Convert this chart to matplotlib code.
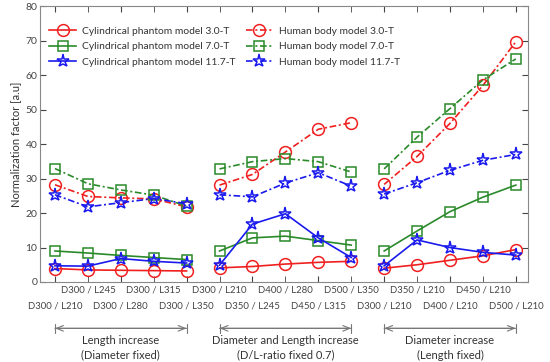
import matplotlib.pyplot as plt
import numpy as np

plt.rcParams["font.family"] = ["Lato", "DejaVu Sans"]

# x positions 1..15, three groups of five
tick_labels = [
    "D300 / L210", "D300 / L245", "D300 / L280", "D300 / L315", "D300 / L350",
    "D300 / L210", "D350 / L245", "D400 / L280", "D450 / L315", "D500 / L350",
    "D300 / L210", "D350 / L210", "D400 / L210", "D450 / L210", "D500 / L210",
]
groups = [
    ("Length increase", "(Diameter fixed)"),
    ("Diameter and Length increase", "(D/L-ratio fixed 0.7)"),
    ("Diameter increase", "(Length fixed)"),
]

cyl_3t = [3.9, 3.5, 3.4, 3.3, 3.2, 4.1, 4.5, 5.2, 5.7, 6.0, 4.0, 5.0, 6.3, 7.6, 9.4]
cyl_7t = [9.0, 8.4, 7.7, 7.1, 6.5, 9.0, 12.8, 13.3, 12.0, 10.7, 9.0, 14.8, 20.4, 24.6, 28.1]
cyl_117t = [4.7, 4.6, 6.8, 6.0, 5.5, 4.9, 16.8, 19.8, 12.8, 7.1, 4.7, 12.2, 10.0, 8.6, 7.8]
hum_3t = [28.2, 24.8, 24.4, 24.1, 21.8, 28.1, 31.2, 37.7, 44.3, 46.2, 28.3, 36.4, 46.0, 57.0, 69.7]
hum_7t = [32.9, 28.5, 26.7, 25.2, 22.0, 32.8, 34.9, 35.8, 34.9, 31.9, 32.8, 42.0, 50.3, 58.6, 64.7]
hum_117t = [25.3, 21.8, 23.0, 24.2, 22.7, 25.3, 24.7, 28.7, 31.7, 27.8, 25.5, 28.8, 32.4, 35.3, 37.0]

RED = "#f02020"
GREEN = "#2a8a2a"
BLUE = "#1a1aee"

series = [
    ("Cylindrical phantom model 3.0-T", cyl_3t, RED, "o", "-"),
    ("Cylindrical phantom model 7.0-T", cyl_7t, GREEN, "s", "-"),
    ("Cylindrical phantom model 11.7-T", cyl_117t, BLUE, "*", "-"),
    ("Human body model 3.0-T", hum_3t, RED, "o", (0, (4, 1.6, 1.2, 1.6))),
    ("Human body model 7.0-T", hum_7t, GREEN, "s", (0, (4, 1.6, 1.2, 1.6))),
    ("Human body model 11.7-T", hum_117t, BLUE, "*", (0, (4, 1.6, 1.2, 1.6))),
]
marker_sizes = {"o": 8.5, "s": 6.5, "*": 9.5}

fig = plt.figure(figsize=(5.5, 3.62), dpi=100)
ax = fig.add_axes([0.073, 0.221, 0.887, 0.762])

x = np.arange(1, 16)
for label, vals, color, marker, ls in series:
    for g in range(3):
        sl = slice(g * 5, g * 5 + 5)
        ax.plot(x[sl], vals[sl], color=color, linestyle=ls, linewidth=1.2,
                marker=marker, markersize=marker_sizes[marker],
                markerfacecolor="none", markeredgecolor=color,
                markeredgewidth=1.1, label=label if g == 0 else None)

ax.set_xlim(0.55, 15.37)
ax.set_ylim(0, 80)
ax.set_yticks(range(0, 81, 10))
# lower row labels on major ticks, upper row on minor ticks
ax.set_xticks(x[0::2])
ax.set_xticklabels(tick_labels[0::2])
ax.set_xticks(x[1::2], minor=True)
ax.set_xticklabels(tick_labels[1::2], minor=True)
ax.tick_params(which="both", direction="in", top=True, right=True, labelsize=6.9,
               colors="#444444", length=4)
ax.tick_params(axis="x", which="major", pad=14)
ax.tick_params(axis="x", which="minor", pad=2.5)
ax.tick_params(axis="y", labelsize=7.5, pad=2)
for sp in ax.spines.values():
    sp.set_color("#888888")
ax.set_ylabel("Normalization factor [a.u]", fontsize=8, color="#333333", labelpad=3)

ax.legend(ncol=2, loc="upper left", bbox_to_anchor=(0.0, 0.96), frameon=False,
          fontsize=7.4, handlelength=2.6, columnspacing=1.0, labelspacing=0.62,
          handletextpad=0.6, labelcolor="#333333")

trans = ax.get_xaxis_transform()
for g, (l1, l2) in enumerate(groups):
    x0, x1 = g * 5 + 1, g * 5 + 5
    ax.annotate("", xy=(x0, -0.168), xytext=(x1, -0.168), xycoords=trans,
                textcoords=trans, annotation_clip=False,
                arrowprops=dict(arrowstyle="<->,head_length=0.5,head_width=0.2",
                                color="#777777", lw=0.8, shrinkA=0, shrinkB=0))
    ax.annotate("", xy=(x0, -0.168), xytext=(x1, -0.168), xycoords=trans,
                textcoords=trans, annotation_clip=False,
                arrowprops=dict(arrowstyle="|-|,widthA=0.3,widthB=0.3",
                                color="#777777", lw=0.8, shrinkA=0, shrinkB=0))
    xc = (x0 + x1) / 2
    ax.text(xc, -0.212, l1, transform=trans, ha="center", va="center",
            fontsize=8, color="#333333", clip_on=False)
    ax.text(xc, -0.265, l2, transform=trans, ha="center", va="center",
            fontsize=8, color="#333333", clip_on=False)

fig.savefig("out.png", dpi=100)
